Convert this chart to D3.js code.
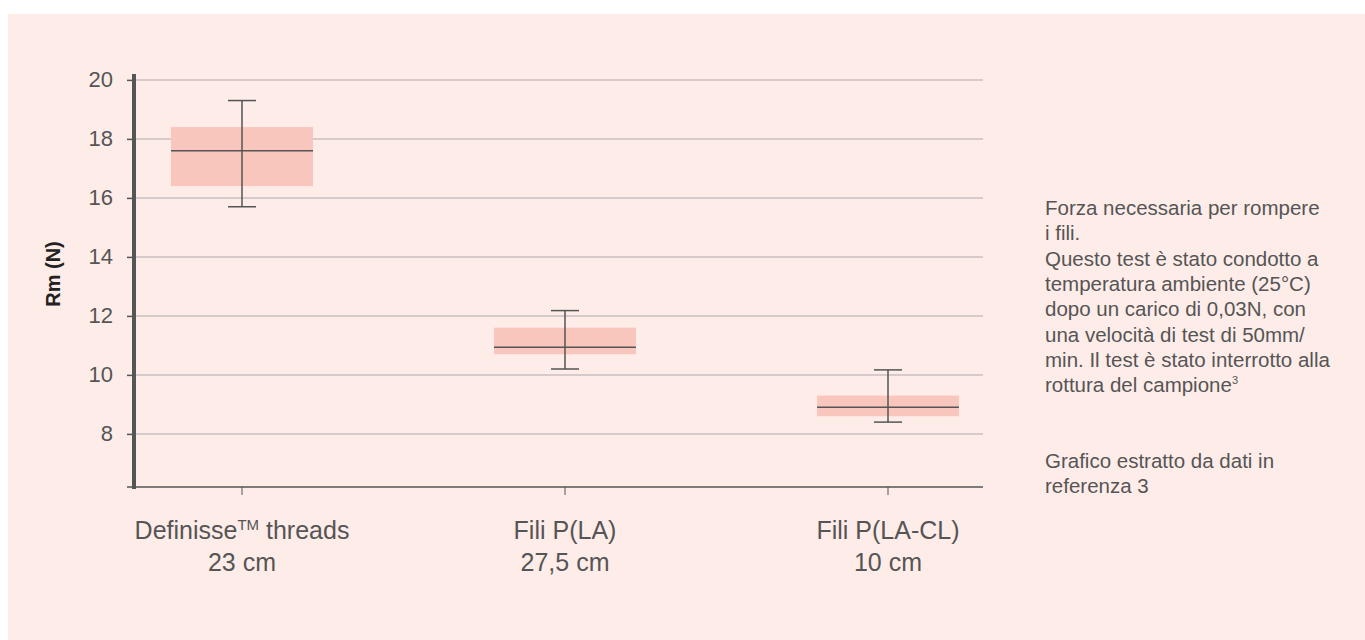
<!DOCTYPE html>
<html lang="it">
<head>
<meta charset="UTF-8">
<title>Rm (N)</title>
<script src="https://d3js.org/d3.v7.min.js"></script>
<style>
  body { margin: 0; background: #fff; }
  svg text { font-family: "Liberation Sans", Arial, sans-serif; fill: #555; }
</style>
</head>
<body>
<svg width="1365" height="640"></svg>
<script>
// data
var categories = ['Definisse', 'Fili P(LA)', 'Fili P(LA-CL)'];
var lengths = ['23 cm', '27,5 cm', '10 cm'];
var boxTop = [18.4, 11.6, 9.3];
var boxBottom = [16.4, 10.7, 8.6];
var medians = [17.6, 10.94, 8.9];
var whiskerHigh = [19.3, 12.18, 10.17];
var whiskerLow = [15.7, 10.2, 8.4];
var yTicks = [8, 10, 12, 14, 16, 18, 20];
var notes = [
  'Forza necessaria per rompere', 'i fili.',
  'Questo test è stato condotto a', 'temperatura ambiente (25°C)',
  'dopo un carico di 0,03N, con', 'una velocità di test di 50mm/',
  'min. Il test è stato interrotto alla', 'rottura del campione'
];
var source = ['Grafico estratto da dati in', 'referenza 3'];

var svg = d3.select('svg');
svg.append('rect').attr('x', 8).attr('y', 14).attr('width', 1357).attr('height', 626)
  .attr('fill', '#feece9');

var left = 134, right = 983;
var y = d3.scaleLinear().domain([6.2, 20.2]).range([487, 74]);
var x = d3.scalePoint().domain(categories).range([242, 888]);

// grid
svg.append('g').selectAll('line').data(yTicks).enter().append('line')
  .attr('x1', left).attr('x2', right)
  .attr('y1', d => y(d)).attr('y2', d => y(d))
  .attr('stroke', '#c9c1bf').attr('stroke-width', 1.5);

// y axis
var yAxis = svg.append('g').attr('transform', 'translate(' + left + ',0)')
  .call(d3.axisLeft(y).tickValues(yTicks).tickSize(7).tickPadding(14));
yAxis.select('.domain').remove();
yAxis.selectAll('.tick line').attr('stroke', '#555').attr('stroke-width', 1.5);
yAxis.selectAll('.tick text').style('font-size', '22px').attr('fill', '#555');
svg.append('line').attr('x1', left).attr('x2', left).attr('y1', 74).attr('y2', 489)
  .attr('stroke', '#555').attr('stroke-width', 4);

// x axis
svg.append('line').attr('x1', 127).attr('x2', right).attr('y1', 487).attr('y2', 487)
  .attr('stroke', '#555').attr('stroke-width', 1.5);
svg.append('g').selectAll('line').data(categories).enter().append('line')
  .attr('x1', d => x(d)).attr('x2', d => x(d)).attr('y1', 487).attr('y2', 495)
  .attr('stroke', '#555').attr('stroke-width', 1);

var labels = svg.append('g').selectAll('text').data(categories).enter().append('text')
  .attr('x', d => x(d)).attr('y', 539).attr('text-anchor', 'middle')
  .style('font-size', '25px');
labels.append('tspan').text(d => d);
labels.filter((d, i) => i === 0).append('tspan').text('TM')
  .attr('dy', -9).style('font-size', '15px');
labels.filter((d, i) => i === 0).append('tspan').text(' threads').attr('dy', 9);
svg.append('g').selectAll('text').data(lengths).enter().append('text')
  .attr('x', (d, i) => x(categories[i])).attr('y', 571).attr('text-anchor', 'middle')
  .style('font-size', '25px').text(d => d);

svg.append('text').attr('transform', 'translate(60,274) rotate(-90)')
  .attr('text-anchor', 'middle').style('font-size', '20px').style('font-weight', 'bold')
  .style('fill', '#222').text('Rm (N)');

// boxes
var bw = 142, cap = 28;
var g = svg.append('g');
categories.forEach(function (c, i) {
  var cx = x(c);
  g.append('rect').attr('x', cx - bw / 2).attr('width', bw)
    .attr('y', y(boxTop[i])).attr('height', y(boxBottom[i]) - y(boxTop[i]))
    .attr('fill', '#f8c6bc');
  g.append('line').attr('x1', cx - bw / 2).attr('x2', cx + bw / 2)
    .attr('y1', y(medians[i])).attr('y2', y(medians[i]))
    .attr('stroke', '#555').attr('stroke-width', 1.5);
  g.append('line').attr('x1', cx).attr('x2', cx)
    .attr('y1', y(whiskerHigh[i])).attr('y2', y(whiskerLow[i]))
    .attr('stroke', '#555').attr('stroke-width', 1.5);
  [whiskerHigh[i], whiskerLow[i]].forEach(function (v) {
    g.append('line').attr('x1', cx - cap / 2).attr('x2', cx + cap / 2)
      .attr('y1', y(v)).attr('y2', y(v))
      .attr('stroke', '#555').attr('stroke-width', 1.5);
  });
});

// side notes
var note = svg.append('text').attr('x', 1045).attr('y', 215).style('font-size', '20.5px');
notes.forEach(function (t, i) {
  note.append('tspan').attr('x', 1045).attr('dy', i === 0 ? 0 : 25.3).text(t);
});
note.append('tspan').text('3').attr('dy', -8).style('font-size', '11px');
var src = svg.append('text').attr('x', 1045).attr('y', 468).style('font-size', '20.5px');
source.forEach(function (t, i) {
  src.append('tspan').attr('x', 1045).attr('dy', i === 0 ? 0 : 25.3).text(t);
});
</script>
</body>
</html>
